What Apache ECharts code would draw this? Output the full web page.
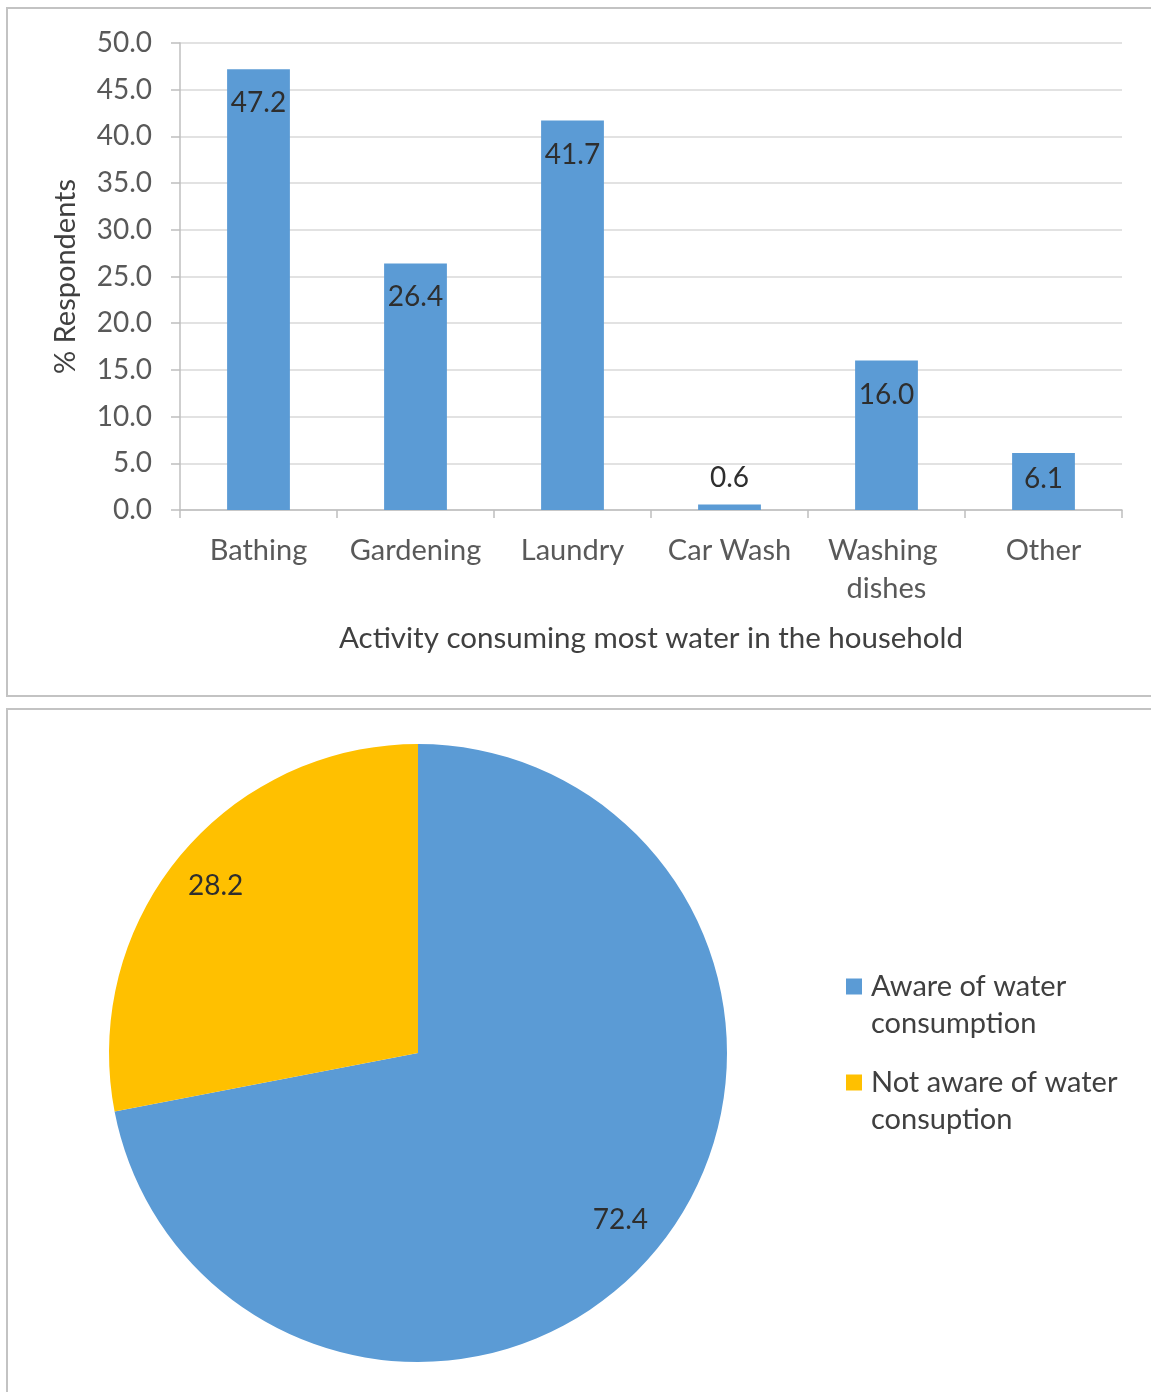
<!DOCTYPE html>
<html>
<head>
<meta charset="utf-8">
<title>Household water use survey</title>
<script src="https://cdn.jsdelivr.net/npm/echarts@6/dist/echarts.min.js"></script>
<style>
  html, body { margin: 0; padding: 0; background: #ffffff; }
  #chart { width: 1151px; height: 1392px; }
</style>
</head>
<body>
<div id="chart"></div>
<script>
// Survey results: which activity uses most water, and awareness of consumption
const activities = ['Bathing', 'Gardening', 'Laundry', 'Car Wash', 'Washing dishes', 'Other'];
const respondentShare = [47.2, 26.4, 41.7, 0.6, 16.0, 6.1];
const yTicks = { min: 0, max: 50, step: 5 };

const awarenessNames = ['Aware of water consumption', 'Not aware of water consuption'];
const awarenessValues = [72.4, 28.2];

const BLUE = '#5b9bd5';
const GOLD = '#ffc000';
const FONT = 'Lato, "Open Sans", sans-serif';
const TICK_GREY = '#595959';
const TEXT_DARK = '#2e2e2e';

const chart = echarts.init(document.getElementById('chart'), null, { renderer: 'canvas' });

// short bars keep their value near the top edge, the tiniest one gets it above
const barData = respondentShare.map(function (v) {
  if (v < 2) {
    return { value: v, label: { position: 'top', distance: 12 } };
  }
  if (v < 10) {
    return { value: v, label: { distance: 12 } };
  }
  return v;
});

// legend entries wrap onto two lines; the leading blank line keeps the
// square marker level with the first line of text
const legendText = {
  fontFamily: FONT, fontSize: 29, color: '#404040',
  width: 290, overflow: 'break', lineHeight: 37,
  padding: [0, 0, 0, 4]
};
function legendFormatter(name) { return '\n' + name; }

const option = {
  animation: false,
  backgroundColor: '#ffffff',
  graphic: [
    { type: 'rect', shape: { x: 7, y: 8, width: 1160, height: 688 },
      style: { fill: 'none', stroke: '#c3c3c3', lineWidth: 2 }, silent: true, z: -1 },
    { type: 'rect', shape: { x: 7, y: 709, width: 1160, height: 700 },
      style: { fill: 'none', stroke: '#c3c3c3', lineWidth: 2 }, silent: true, z: -1 }
  ],
  grid: {
    left: 180, right: 29, top: 43, bottom: 882,
    containLabel: false, outerBoundsMode: 'none'
  },
  xAxis: {
    type: 'category',
    data: activities,
    name: 'Activity consuming most water in the household',
    nameLocation: 'middle',
    nameGap: 113,
    nameTextStyle: { fontFamily: FONT, fontSize: 29.5, color: '#404040' },
    axisLine: { show: true, lineStyle: { color: '#bfbfbf', width: 1.5 } },
    axisTick: { show: true, length: 8, alignWithLabel: false, lineStyle: { color: '#bfbfbf', width: 1.5 } },
    axisLabel: {
      interval: 0, margin: 22, fontFamily: FONT, fontSize: 29, color: TICK_GREY,
      width: 150, overflow: 'break', lineHeight: 38
    },
    splitLine: { show: false }
  },
  yAxis: {
    type: 'value',
    min: yTicks.min, max: yTicks.max, interval: yTicks.step,
    name: '% Respondents',
    nameLocation: 'middle',
    nameRotate: 90,
    nameGap: 100,
    nameTextStyle: { fontFamily: FONT, fontSize: 29, color: '#404040' },
    axisLine: { show: true, lineStyle: { color: '#bfbfbf', width: 1.5 } },
    axisTick: { show: true, length: 9, lineStyle: { color: '#bfbfbf', width: 1.5 } },
    axisLabel: {
      margin: 28, fontFamily: FONT, fontSize: 28, color: TICK_GREY,
      formatter: function (v) { return v.toFixed(1); }
    },
    splitLine: { show: true, lineStyle: { color: '#d9d9d9', width: 1.5 } }
  },
  legend: [
    {
      data: [awarenessNames[0]], orient: 'vertical', left: 846, top: 931, padding: 0,
      icon: 'rect', itemWidth: 16, itemHeight: 16, itemGap: 0,
      textStyle: legendText, formatter: legendFormatter, selectedMode: false
    },
    {
      data: [awarenessNames[1]], orient: 'vertical', left: 846, top: 1027, padding: 0,
      icon: 'rect', itemWidth: 16, itemHeight: 16, itemGap: 0,
      textStyle: legendText, formatter: legendFormatter, selectedMode: false
    }
  ],
  series: [
    {
      type: 'bar',
      data: barData,
      barWidth: '40%',
      itemStyle: { color: BLUE },
      label: {
        show: true, position: 'insideTop', distance: 20,
        fontFamily: FONT, fontSize: 28, color: TEXT_DARK,
        formatter: function (p) { return p.value.toFixed(1); }
      }
    },
    {
      // filled slices
      type: 'pie',
      center: [418, 1053],
      radius: 309,
      startAngle: 90,
      clockwise: true,
      label: { show: false },
      labelLine: { show: false },
      emphasis: { disabled: true },
      data: awarenessNames.map(function (n, i) {
        return { name: n, value: awarenessValues[i], itemStyle: { color: [BLUE, GOLD][i] } };
      })
    },
    {
      // transparent ring that carries the value labels out toward the rim
      type: 'pie',
      center: [418, 1053],
      radius: [210, 309],
      startAngle: 90,
      clockwise: true,
      silent: true,
      itemStyle: { color: 'rgba(0,0,0,0)' },
      label: {
        show: true, position: 'inside',
        fontFamily: FONT, fontSize: 28, color: TEXT_DARK,
        formatter: function (p) { return p.value.toFixed(1); }
      },
      labelLine: { show: false },
      emphasis: { disabled: true },
      data: awarenessNames.map(function (n, i) {
        return { name: n, value: awarenessValues[i] };
      })
    }
  ]
};

chart.setOption(option);
</script>
</body>
</html>
